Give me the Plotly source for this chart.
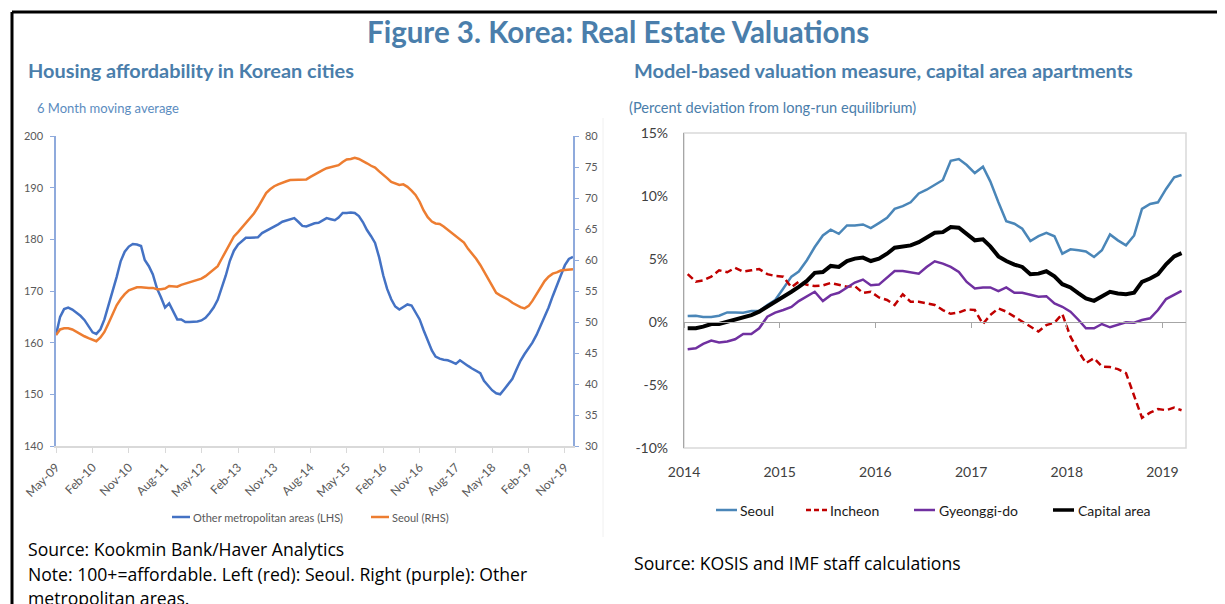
import pandas as pd
import plotly.graph_objects as go

W, H = 1225, 604
# the page body adds an 8px margin around the figure; positions below are
# given in target-picture pixels and shifted by this offset
PAGE_OFFSET = 8
FONT = "Lato"
BODY_FONT = "Open Sans"

# ---------------- Left chart data (monthly, May-2009 .. Jan-2020) ----------------
left_start = "2009-05-01"
other_metro_lhs = [
    161.5, 165.0, 166.5, 166.8, 166.4, 165.8, 165.2, 164.4, 163.3, 162.0,
    161.7, 162.6, 164.5, 167.2, 170.0, 172.7, 175.8, 177.6, 178.6, 179.1,
    179.0, 178.7, 176.0, 174.8, 173.2, 170.5, 168.8, 166.8, 167.6, 166.0,
    164.5, 164.5, 164.0, 164.0, 164.0, 164.1, 164.3, 164.8, 165.7, 166.8,
    168.3, 170.5, 173.0, 175.8, 177.8, 179.0, 179.7, 180.3, 180.3, 180.4,
    180.4, 181.2, 181.6, 182.0, 182.5, 182.9, 183.4, 183.6, 183.9, 184.1,
    183.4, 182.6, 182.5, 182.8, 183.1, 183.2, 183.7, 184.1, 183.9, 183.7,
    184.2, 185.1, 185.1, 185.2, 185.1, 184.5, 183.3, 181.8, 180.6, 179.3,
    176.5, 173.0, 170.4, 168.4, 167.0, 166.4, 166.9, 167.4, 167.2, 166.0,
    164.5, 162.4, 160.3, 158.5, 157.3, 156.9, 156.7, 156.6, 156.3, 155.9,
    156.6, 156.0, 155.5, 155.0, 154.6, 154.1, 152.6, 151.6, 150.8, 150.2,
    150.0, 151.0, 152.0, 153.0, 154.8, 156.5, 157.8, 159.0, 160.0, 161.5,
    163.2, 164.8, 166.8, 169.0, 171.2, 173.0, 175.0, 176.2, 176.6,
]
seoul_rhs = [
    47.9, 48.8, 49.0, 49.0, 48.8, 48.4, 48.0, 47.7, 47.4, 47.1,
    46.9, 47.5, 48.4, 49.8, 51.2, 52.7, 53.7, 54.5, 55.1, 55.4,
    55.6, 55.6, 55.5, 55.5, 55.5, 55.3, 55.3, 55.4, 55.8, 55.7,
    55.7, 56.0, 56.2, 56.4, 56.7, 56.8, 57.0, 57.4, 57.9, 58.4,
    59.0, 60.2, 61.4, 62.6, 63.8, 64.5, 65.2, 65.8, 66.7, 67.5,
    68.5, 69.6, 70.8, 71.4, 71.9, 72.2, 72.5, 72.7, 72.9, 72.9,
    72.9, 72.9, 73.0, 73.4, 73.8, 74.1, 74.5, 74.8, 75.0, 75.2,
    75.3, 75.8, 76.2, 76.3, 76.5, 76.3, 76.0, 75.6, 75.2, 74.9,
    74.3, 73.8, 73.2, 72.6, 72.3, 72.1, 72.2, 71.8, 71.2, 70.5,
    69.4, 68.0, 66.9, 66.2, 65.9, 65.8, 65.4, 64.9, 64.4, 63.8,
    63.3, 62.8, 61.8, 61.1, 60.2, 59.2, 58.2, 57.0, 55.8, 54.7,
    54.3, 54.0, 53.6, 53.1, 52.7, 52.4, 52.2, 52.6, 53.4, 54.5,
    55.6, 56.6, 57.3, 57.8, 58.0, 58.3, 58.4, 58.5, 58.5,
]
left_dates = pd.date_range(left_start, periods=len(other_metro_lhs), freq="MS")

# ---------------- Right chart data (monthly, Jan-2014 .. Mar-2019, percent) ----------------
right_start = "2014-01-01"
seoul_pct = [
    0.47, 0.5, 0.4, 0.4, 0.5, 0.76, 0.76, 0.74, 0.87, 0.87,
    1.34, 1.74, 2.66, 3.6, 4.0, 4.9, 5.95, 6.87, 7.33, 7.0,
    7.66, 7.66, 7.74, 7.45, 7.85, 8.27, 8.98, 9.19, 9.5, 10.2,
    10.5, 10.9, 11.27, 12.8, 12.93, 12.46, 11.82, 12.32, 11.16, 9.5,
    8.0, 7.8, 7.4, 6.43, 6.82, 7.08, 6.8, 5.42, 5.77, 5.69,
    5.6, 5.16, 5.69, 6.95, 6.48, 6.08, 6.87, 8.98, 9.37, 9.5,
    10.56, 11.48, 11.67,
]
incheon_pct = [
    3.8, 3.2, 3.3, 3.6, 4.1, 3.95, 4.3, 4.0, 4.1, 4.2,
    3.8, 3.65, 3.6, 2.75, 3.2, 2.95, 2.85, 2.9, 3.1, 2.95,
    2.8, 2.85, 2.3, 2.4, 1.95, 1.75, 1.35, 2.2, 1.6, 1.6,
    1.5, 1.35, 0.95, 0.65, 0.75, 1.0, 0.95, -0.16, 0.55, 1.08,
    0.82, 0.42, 0.03, -0.42, -0.76, -0.24, -0.05, 0.63, -1.16, -2.34,
    -3.26, -2.87, -3.53, -3.58, -3.74, -4.05, -5.9, -7.6, -7.2, -6.9,
    -7.0, -6.8, -7.0,
]
gyeonggi_pct = [
    -2.16, -2.08, -1.74, -1.48, -1.63, -1.55, -1.37, -0.95, -0.95, -0.5,
    0.42, 0.74, 0.95, 1.2, 1.66, 2.05, 2.4, 1.66, 2.13, 2.32,
    2.74, 3.13, 3.37, 2.92, 2.97, 3.53, 4.05, 4.05, 3.95, 3.84,
    4.37, 4.82, 4.63, 4.37, 3.97, 3.18, 2.66, 2.74, 2.74, 2.45,
    2.74, 2.32, 2.32, 2.19, 2.0, 2.05, 1.47, 1.21, 0.82, 0.16,
    -0.5, -0.5, -0.16, -0.42, -0.24, -0.03, -0.05, 0.16, 0.29, 0.95,
    1.82, 2.13, 2.47,
]
capital_pct = [
    -0.5, -0.49, -0.37, -0.16, -0.16, 0.03, 0.21, 0.42, 0.55, 0.82,
    1.21, 1.53, 2.0, 2.4, 2.79, 3.26, 3.9, 3.97, 4.45, 4.37,
    4.84, 5.03, 5.11, 4.84, 5.03, 5.42, 5.9, 6.03, 6.08, 6.34,
    6.74, 7.08, 7.13, 7.53, 7.48, 6.95, 6.48, 6.56, 6.0, 5.21,
    4.84, 4.56, 4.37, 3.79, 3.84, 4.03, 3.63, 3.0, 2.74, 2.27,
    1.87, 1.68, 2.05, 2.4, 2.27, 2.21, 2.32, 3.18, 3.45, 3.79,
    4.58, 5.21, 5.47,
]
right_dates = pd.date_range(right_start, periods=len(seoul_pct), freq="MS") + pd.Timedelta(days=14)

right_tick_vals = [-10, -5, 0, 5, 10, 15]
right_tick_text = ["-10%", "-5%", "0%", "5%", "10%", "15%"]
year_ticks = ["2014-01-01", "2015-01-01", "2016-01-01", "2017-01-01", "2018-01-01", "2019-01-01"]
year_text = ["2014", "2015", "2016", "2017", "2018", "2019"]

# series styling
LEFT_SERIES = [
    ("Other metropolitan areas (LHS)", other_metro_lhs, "y", "#4472C4"),
    ("Seoul (RHS)", seoul_rhs, "y2", "#ED7D31"),
]
RIGHT_SERIES = [
    ("Seoul", seoul_pct, "#4A86B8", 2.5, "solid"),
    ("Incheon", incheon_pct, "#C00000", 2.5, "7px,4px"),
    ("Gyeonggi-do", gyeonggi_pct, "#7030A0", 2.5, "solid"),
    ("Capital area", capital_pct, "#000000", 4, "solid"),
]


def px_x(p):
    return (p - PAGE_OFFSET) / W


def px_y(p):
    return 1 - (p - PAGE_OFFSET) / H


fig = go.Figure()

for name, vals, yax, color in LEFT_SERIES:
    fig.add_trace(go.Scatter(x=left_dates, y=vals, mode="lines", name=name,
                             line=dict(color=color, width=2.5),
                             xaxis="x", yaxis=yax, showlegend=False))

for name, vals, color, width, dash in RIGHT_SERIES:
    fig.add_trace(go.Scatter(x=right_dates, y=vals, mode="lines", name=name,
                             line=dict(color=color, width=width, dash=dash),
                             xaxis="x2", yaxis="y3", showlegend=False))

# empty helper trace so the zero-line axis is drawn
fig.add_trace(go.Scatter(x=[], y=[], xaxis="x3", yaxis="y3", showlegend=False, hoverinfo="skip"))

tick_font_left = dict(family=FONT, size=11, color="#595959")
tick_font_left_x = dict(family=FONT, size=12, color="#595959")
tick_font_right = dict(family=FONT, size=14, color="#404040")

fig.update_layout(
    width=W, height=H,
    margin=dict(l=0, r=0, t=0, b=0, pad=0, autoexpand=False),
    paper_bgcolor="white", plot_bgcolor="rgba(0,0,0,0)",
    font=dict(family=FONT, color="#404040"),
    showlegend=False,
    xaxis=dict(domain=[px_x(56), px_x(573)], anchor="y", type="date", automargin=False,
               range=["2009-05-01", "2020-01-01"], tick0="2009-05-01", dtick="M9",
               tickformat="%b-%y", tickangle=-45, ticks="outside", ticklen=5,
               tickcolor="#D9D9D9", showline=True, linecolor="#D9D9D9", linewidth=1.5,
               showgrid=False, zeroline=False, tickfont=tick_font_left_x,
               ticklabelstandoff=3),
    yaxis=dict(domain=[px_y(446), px_y(136)], anchor="x", range=[140, 200], dtick=10,
               automargin=False, showline=True, linecolor="#8FAADC", linewidth=1.5,
               ticks="outside", tickcolor="#8FAADC", ticklen=4, showgrid=False,
               zeroline=False, tickfont=tick_font_left, ticklabelstandoff=5),
    yaxis2=dict(overlaying="y", side="right", anchor="x", range=[30, 80], dtick=5,
                automargin=False, showline=True, linecolor="#8FAADC", linewidth=1.5,
                ticks="outside", tickcolor="#8FAADC", ticklen=4, showgrid=False,
                zeroline=False, tickfont=tick_font_left, ticklabelstandoff=4),
    xaxis2=dict(domain=[px_x(684), px_x(1186)], anchor="y3", type="date", automargin=False,
                range=["2014-01-01", "2019-04-01"], tickvals=year_ticks, ticktext=year_text,
                ticks="", showline=False, showgrid=False, zeroline=False,
                tickfont=tick_font_right, ticklabelstandoff=14),
    xaxis3=dict(overlaying="x2", anchor="free", position=px_y(322), type="date",
                automargin=False, range=["2014-01-01", "2019-04-01"], tickvals=year_ticks,
                showticklabels=False, ticks="outside", ticklen=5, tickcolor="#A6A6A6",
                showline=True, linecolor="#A6A6A6", linewidth=1.2, showgrid=False,
                zeroline=False),
    yaxis3=dict(domain=[px_y(448), px_y(133)], anchor="x2", range=[-10, 15],
                automargin=False, tickvals=right_tick_vals, ticktext=right_tick_text,
                showgrid=False, zeroline=False, showline=True, linecolor="#A6A6A6",
                linewidth=1.2, ticks="", tickfont=tick_font_right, ticklabelstandoff=12),
)

shapes = [
    # figure frame
    dict(type="line", xref="paper", yref="paper", x0=px_x(12), x1=1, y0=px_y(12), y1=px_y(12),
         line=dict(color="black", width=3)),
    dict(type="line", xref="paper", yref="paper", x0=px_x(12), x1=px_x(12), y0=0, y1=px_y(12),
         line=dict(color="black", width=3)),
    # faint chart-area border of the left chart
    dict(type="line", xref="paper", yref="paper", x0=px_x(603), x1=px_x(603), y0=px_y(537),
         y1=px_y(118), line=dict(color="#F0F0F0", width=1)),
    # right plot box
    dict(type="rect", xref="x2 domain", yref="y3 domain", x0=0, x1=1, y0=0, y1=1,
         line=dict(color="#D9D9D9", width=1.5), layer="below"),
]

TITLE_BLUE = "#4A7EAB"
annotations = [
    dict(text="<b>Figure 3. Korea: Real Estate Valuations</b>", x=px_x(618), y=px_y(31),
         xanchor="center", yanchor="middle", font=dict(family=FONT, size=29.5, color=TITLE_BLUE)),
    dict(text="<b>Housing affordability in Korean cities</b>", x=px_x(26), y=px_y(70),
         xanchor="left", yanchor="middle", font=dict(family=FONT, size=19.9, color=TITLE_BLUE)),
    dict(text="<b>Model-based valuation measure, capital area apartments</b>", x=px_x(632),
         y=px_y(70), xanchor="left", yanchor="middle",
         font=dict(family=FONT, size=19.9, color=TITLE_BLUE)),
    dict(text="6 Month moving average", x=px_x(35), y=px_y(108), xanchor="left",
         yanchor="middle", font=dict(family=FONT, size=13, color="#5B8CC0")),
    dict(text="(Percent deviation from long-run equilibrium)", x=px_x(627), y=px_y(108),
         xanchor="left", yanchor="middle", font=dict(family=FONT, size=14.6, color=TITLE_BLUE)),
    dict(text="Source: Kookmin Bank/Haver Analytics", x=px_x(26), y=px_y(549),
         xanchor="left", yanchor="middle", font=dict(family=BODY_FONT, size=17.6, color="#000000")),
    dict(text="Note: 100+=affordable. Left (red): Seoul. Right (purple): Other", x=px_x(26),
         y=px_y(574), xanchor="left", yanchor="middle",
         font=dict(family=BODY_FONT, size=17.6, color="#000000")),
    dict(text="metropolitan areas.", x=px_x(26), y=px_y(598), xanchor="left",
         yanchor="middle", font=dict(family=BODY_FONT, size=17.6, color="#000000")),
    dict(text="Source: KOSIS and IMF staff calculations", x=px_x(632), y=px_y(563),
         xanchor="left", yanchor="middle", font=dict(family=BODY_FONT, size=17.6, color="#000000")),
]

# legends (sample line + label) for both panels
left_legend_pos = [(172, 190, 191), (371, 389, 390)]
for (name, _, _, color), (sx0, sx1, tx) in zip(LEFT_SERIES, left_legend_pos):
    shapes.append(dict(type="line", xref="paper", yref="paper", x0=px_x(sx0), x1=px_x(sx1),
                       y0=px_y(517), y1=px_y(517), line=dict(color=color, width=2.5)))
    annotations.append(dict(text=name, x=px_x(tx), y=px_y(517), xanchor="left",
                            yanchor="middle", font=dict(family=FONT, size=11, color="#595959")))

right_legend_pos = [(716, 737, 738), (806, 827, 828), (914, 935, 937), (1053, 1074, 1076)]
for (name, _, color, width, dash), (sx0, sx1, tx) in zip(RIGHT_SERIES, right_legend_pos):
    shapes.append(dict(type="line", xref="paper", yref="paper", x0=px_x(sx0), x1=px_x(sx1),
                       y0=px_y(510), y1=px_y(510),
                       line=dict(color=color, width=width if width < 4 else 3.5,
                                 dash="5px,3px" if dash != "solid" else "solid")))
    annotations.append(dict(text=name, x=px_x(tx), y=px_y(510), xanchor="left",
                            yanchor="middle", font=dict(family=FONT, size=14, color="#1A1A1A")))

for a in annotations:
    a.update(xref="paper", yref="paper", showarrow=False)
fig.update_layout(shapes=shapes, annotations=annotations)

fig.write_html("out.html")
